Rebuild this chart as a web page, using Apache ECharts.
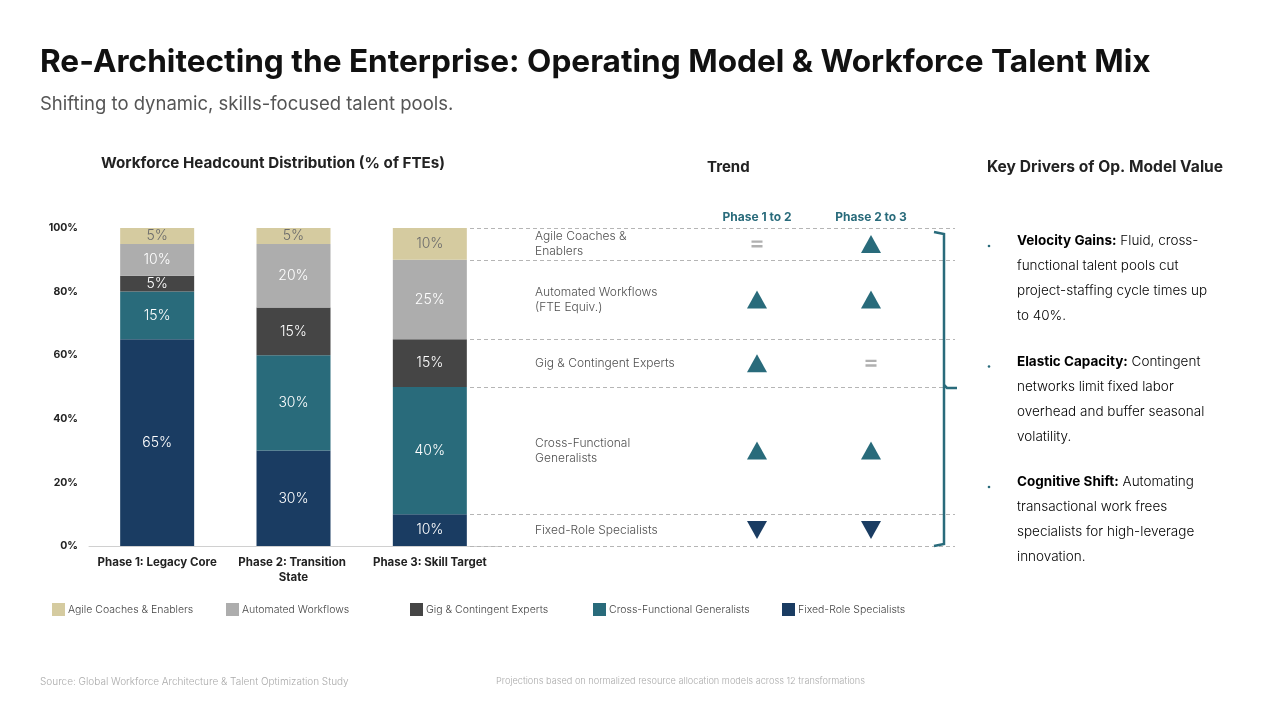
<!DOCTYPE html>
<html>
<head>
<meta charset="utf-8">
<script src="https://cdn.jsdelivr.net/npm/echarts@6/dist/echarts.min.js"></script>
<style>html,body{margin:0;padding:0;background:#fff;}#c{width:1280px;height:720px;}</style>
</head>
<body>
<div id="c"></div>
<script>
// ---- data ----
const phases = ['Phase 1: Legacy Core', 'Phase 2: Transition State', 'Phase 3: Skill Target'];
const seriesNames = ['Fixed-Role Specialists', 'Cross-Functional Generalists', 'Gig & Contingent Experts', 'Automated Workflows', 'Agile Coaches & Enablers'];
const fixedRole = [65, 30, 10];
const crossFunctional = [15, 30, 40];
const gigContingent = [5, 15, 15];
const automated = [10, 20, 25];
const agileCoaches = [5, 5, 10];
const yTicks = [0, 20, 40, 60, 80, 100];
const trendColumns = ['Phase 1 to 2', 'Phase 2 to 3'];
const trendRowLabels = ['Fixed-Role Specialists', 'Cross-Functional\nGeneralists', 'Gig & Contingent Experts', 'Automated Workflows\n(FTE Equiv.)', 'Agile Coaches &\nEnablers'];
const trend1to2 = ['down', 'up', 'up', 'up', 'flat'];
const trend2to3 = ['down', 'up', 'flat', 'up', 'up'];
const drivers = [
  {head: 'Velocity Gains:', lines: [' Fluid, cross-', 'functional talent pools cut', 'project-staffing cycle times up', 'to 40%.']},
  {head: 'Elastic Capacity:', lines: [' Contingent', 'networks limit fixed labor', 'overhead and buffer seasonal', 'volatility.']},
  {head: 'Cognitive Shift:', lines: [' Automating', 'transactional work frees', 'specialists for high-leverage', 'innovation.']}
];

// ---- styles ----
const FONT = 'Inter, Lato, sans-serif';
const colors = ['#1a3c62', '#296b7b', '#454545', '#adadad', '#d5cba0'];
const labelColors = ['#ffffff', '#ffffff', '#ffffff', '#ffffff', '#6b6b6b'];
const upColor = '#296b7b', downColor = '#1a3c62', flatColor = '#b0b0b0';
const valuesBySeries = [fixedRole, crossFunctional, gigContingent, automated, agileCoaches];

// phase-3 cumulative boundaries & midpoints (drives trend rows)
const p3 = valuesBySeries.map(v => v[2]);
const bounds = [0];
p3.forEach(v => bounds.push(bounds[bounds.length - 1] + v));
const mids = p3.map((v, i) => bounds[i] + v / 2);

const chart = echarts.init(document.getElementById('c'));

const barSeries = seriesNames.map((n, i) => ({
  name: n, type: 'bar', stack: 'total', xAxisIndex: 0, yAxisIndex: 0,
  barWidth: 74,
  itemStyle: {color: colors[i]},
  label: {show: true, position: 'inside', formatter: p => p.value + '%', color: labelColors[i], fontFamily: FONT, fontSize: 14, fontWeight: 300},
  data: valuesBySeries[i]
}));

const trendSym = t => t === 'flat' ? 'path://M0,0H10V2H0ZM0,4H10V6H0Z' : 'triangle';
function trendSeries(arr, col) {
  return {
    type: 'scatter', xAxisIndex: 2, yAxisIndex: 2, silent: true, z: 5,
    data: arr.map((t, i) => ({
      value: [col, mids[i]],
      symbol: trendSym(t),
      symbolSize: t === 'flat' ? [11, 7] : [20, 18],
      symbolRotate: t === 'down' ? 180 : 0,
      itemStyle: {color: t === 'up' ? upColor : (t === 'down' ? downColor : flatColor), opacity: 1}
    }))
  };
}

const ROW_LABEL_X = 65; // offset inside trend grid

const legends = seriesNames.slice().reverse().map((n, i) => ({
  data: [n], left: [47, 221, 405, 588, 777][i], top: 598, icon: 'rect', itemWidth: 13, itemHeight: 13, itemGap: 0,
  textStyle: {fontFamily: FONT, fontSize: 10.5, fontWeight: 300, color: '#444', padding: [0, 0, 0, -2]}, selectedMode: false
}));

const driverGraphics = [];
let dy = 234;
drivers.forEach(d => {
  driverGraphics.push({type: 'circle', shape: {cx: 989, cy: dy + 12, r: 1.3}, style: {fill: '#296b7b'}});
  driverGraphics.push({
    type: 'text', left: 1017, top: dy,
    style: {
      text: '{b|' + d.head + '}{r|' + d.lines[0] + '}\n{r|' + d.lines.slice(1).join('}\n{r|') + '}',
      rich: {
        b: {fontFamily: FONT, fontSize: 13.5, fontWeight: 'bold', color: '#222', lineHeight: 25},
        r: {fontFamily: FONT, fontSize: 13.5, fontWeight: 300, color: '#333', lineHeight: 25}
      }
    }
  });
  dy += 120.5;
});

chart.setOption({
  animation: false,
  textStyle: {fontFamily: FONT},
  legend: legends,
  grid: [
    {left: 89, right: 782, top: 228, bottom: 174},
    {left: 470, right: 325, top: 228, bottom: 174},
    {left: 700, right: 352, top: 228, bottom: 174}
  ],
  xAxis: [
    {type: 'category', gridIndex: 0, data: phases,
      axisLine: {lineStyle: {color: '#d0d0d0'}}, axisTick: {show: false},
      axisLabel: {fontFamily: FONT, fontSize: 11.5, fontWeight: 'bold', color: '#222', margin: 9, width: 130, overflow: 'break', lineHeight: 15, interval: 0}},
    {type: 'value', gridIndex: 1, min: 0, max: 485, show: false},
    {type: 'category', gridIndex: 2, data: trendColumns, position: 'top',
      axisLine: {show: false}, axisTick: {show: false},
      axisLabel: {fontFamily: FONT, fontSize: 12, fontWeight: 'bold', color: '#296b7b', margin: 5}}
  ],
  yAxis: [
    {type: 'value', gridIndex: 0, min: yTicks[0], max: yTicks[yTicks.length - 1], interval: 20,
      splitLine: {show: false}, axisLine: {show: false}, axisTick: {show: false},
      axisLabel: {formatter: v => v + '%', fontFamily: FONT, fontSize: 10.5, fontWeight: 'bold', color: '#222', margin: 11}},
    {type: 'value', gridIndex: 1, min: 0, max: 100, show: false},
    {type: 'value', gridIndex: 2, min: 0, max: 100, show: false}
  ],
  series: barSeries.concat([
    {type: 'line', xAxisIndex: 1, yAxisIndex: 1, data: [], silent: true,
      markLine: {silent: true, symbol: 'none', label: {show: false},
        lineStyle: {type: [4, 3], color: '#b5b5b5', width: 1},
        data: bounds.map(b => ({yAxis: b}))}},
    {type: 'scatter', xAxisIndex: 1, yAxisIndex: 1, silent: true, symbolSize: 0,
      data: trendRowLabels.map((t, i) => ({value: [ROW_LABEL_X, mids[i]], name: t})),
      label: {show: true, position: 'right', distance: 0, formatter: p => p.name, fontFamily: FONT, fontSize: 12, fontWeight: 300, color: '#222', lineHeight: 15}},
    trendSeries(trend1to2, 0),
    trendSeries(trend2to3, 1)
  ]),
  graphic: [
    {type: 'text', left: 40, top: 46, style: {text: 'Re-Architecting the Enterprise: Operating Model & Workforce Talent Mix', fontFamily: FONT, fontSize: 31.6, fontWeight: 'bold', fill: '#111'}},
    {type: 'text', left: 40, top: 95, style: {text: 'Shifting to dynamic, skills-focused talent pools.', fontFamily: FONT, fontSize: 18.5, fill: '#555'}},
    {type: 'text', left: 101, top: 156, style: {text: 'Workforce Headcount Distribution (% of FTEs)', fontFamily: FONT, fontSize: 15.2, fontWeight: 'bold', fill: '#222'}},
    {type: 'text', left: 707, top: 160, style: {text: 'Trend', fontFamily: FONT, fontSize: 15, fontWeight: 'bold', fill: '#222'}},
    {type: 'text', left: 987, top: 159, style: {text: 'Key Drivers of Op. Model Value', fontFamily: FONT, fontSize: 15.6, fontWeight: 'bold', fill: '#222'}},
    {type: 'polyline', z: 100, shape: {points: [[934, 232], [944, 234], [944, 544], [934, 546]]}, style: {stroke: '#296b7b', lineWidth: 2.5, fill: null}},
    {type: 'polyline', z: 100, shape: {points: [[944, 385], [947, 388], [957, 388]]}, style: {stroke: '#296b7b', lineWidth: 2.5, fill: null}},
    {type: 'text', left: 40, top: 677, style: {text: 'Source: Global Workforce Architecture & Talent Optimization Study', fontFamily: FONT, fontSize: 10, fontWeight: 300, fill: '#aaa'}},
    {type: 'text', left: 496, top: 677, style: {text: 'Projections based on normalized resource allocation models across 12 transformations', fontFamily: FONT, fontSize: 9.2, fontWeight: 300, fill: '#aaa'}}
  ].concat(driverGraphics)
});
</script>
</body>
</html>
